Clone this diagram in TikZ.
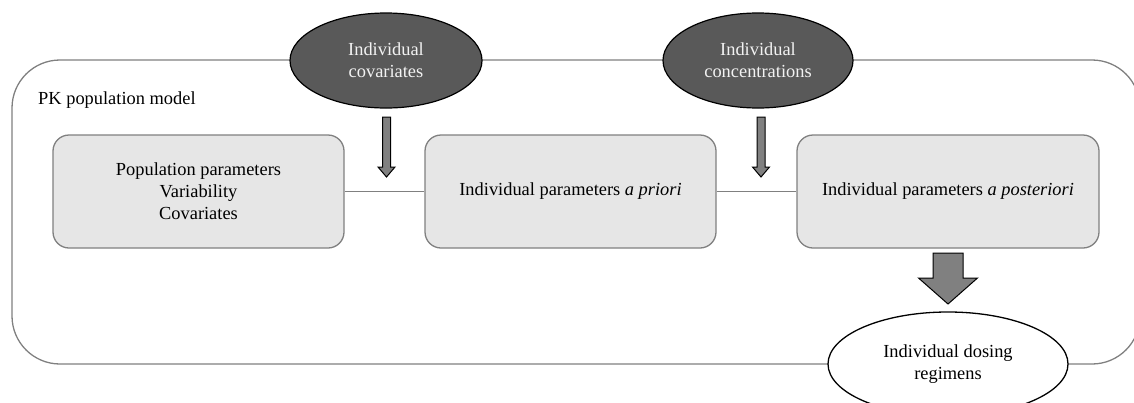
\documentclass[tikz,border=0pt]{standalone}
\usepackage{fontspec}
\setmainfont{Liberation Serif}
\usetikzlibrary{shapes.geometric}
\definecolor{framegray}{HTML}{808080}
\definecolor{boxfill}{HTML}{E6E6E6}
\definecolor{ellfill}{HTML}{595959}
\definecolor{arrowfill}{HTML}{808080}
\definecolor{elltext}{HTML}{F2F2F2}
\tikzset{
  frame/.style={draw=framegray, line width=1.3pt, rounded corners=48pt, inner sep=0pt},
  parambox/.style={draw=framegray, line width=1.3pt, fill=boxfill, rounded corners=16pt,
    minimum height=113pt, inner sep=0pt, align=center},
  darkell/.style={ellipse, draw=black, line width=1.2pt, fill=ellfill, text=elltext,
    inner sep=0pt, minimum height=95pt, align=center},
  whiteell/.style={ellipse, draw=black, line width=1.3pt, fill=white,
    inner sep=0pt, align=center},
  link/.style={draw=framegray, line width=1.3pt},
  blockarrow/.style={draw=black, line width=1pt, fill=arrowfill, line join=miter},
  lbl/.style={inner sep=0pt, anchor=west}
}
\begin{document}
\begin{tikzpicture}[x=1pt, y=-1pt, font=\fontsize{18.4}{22}\selectfont]
\useasboundingbox (0,0) rectangle (1134,402);
\clip (0,0) rectangle (1134,402);
% outer frame
\node[frame, minimum width=1128pt, minimum height=304pt] (model) at (576,212) {};
\node[lbl] (modellbl) at (38,100) {PK population model};
% boxes
\node[parambox, minimum width=291pt] (pop) at (198.5,191.5) {Population parameters\\Variability\\Covariates};
\node[parambox, minimum width=291pt] (prior) at (570.5,191.5) {Individual parameters \textit{a priori}};
\node[parambox, minimum width=302pt] (post) at (948,191.5) {Individual parameters \textit{a posteriori}};
\draw[link] (pop) -- (prior);
\draw[link] (prior) -- (post);
% ellipses
\node[darkell, minimum width=192pt] (cov) at (386,60.5) {Individual\\covariates};
\node[darkell, minimum width=190pt] (conc) at (758,60.5) {Individual\\concentrations};
\node[whiteell, minimum width=240pt, minimum height=104pt] (dose) at (948,364) {Individual dosing\\regimens};
% block arrows
\coordinate (a1) at (386.5,117);
\coordinate (a2) at (761,117);
\coordinate (a3) at (948,253);
\draw[blockarrow] ([xshift=-4pt]a1) -- ++(8,0) -- ++(0,50) -- ++(4.5,0) -- ++(-8.5,10) -- ++(-8.5,-10) -- ++(4.5,0) -- cycle;
\draw[blockarrow] ([xshift=-4pt]a2) -- ++(8,0) -- ++(0,50) -- ++(4.5,0) -- ++(-8.5,10) -- ++(-8.5,-10) -- ++(4.5,0) -- cycle;
\draw[blockarrow] ([xshift=-15pt]a3) -- ++(30,0) -- ++(0,25) -- ++(14.5,0) -- ++(-29.5,26) -- ++(-29.5,-26) -- ++(14.5,0) -- cycle;
\end{tikzpicture}
\end{document}
